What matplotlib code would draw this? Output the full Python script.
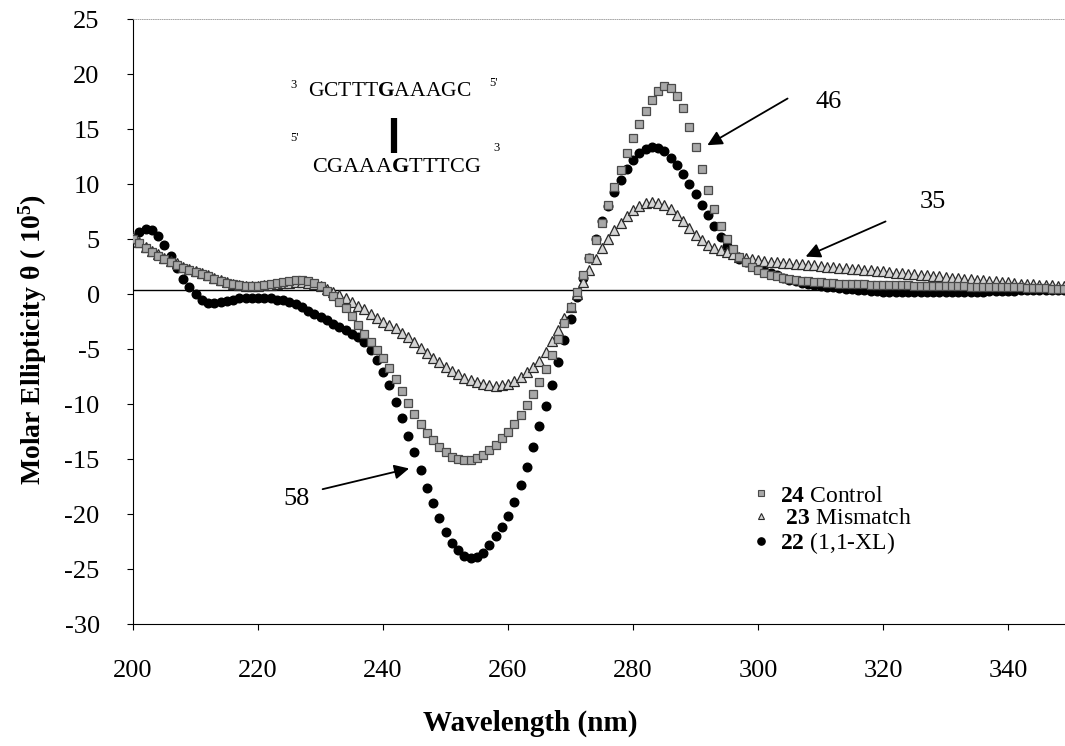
import matplotlib
matplotlib.use("Agg")
import matplotlib.pyplot as plt
from matplotlib.lines import Line2D

plt.rcParams['font.family'] = ['Liberation Serif', 'DejaVu Serif']
plt.rcParams['mathtext.fontset'] = 'custom'
plt.rcParams['mathtext.rm'] = 'Liberation Serif'
plt.rcParams['mathtext.bf'] = 'Liberation Serif:bold'
plt.rcParams['mathtext.it'] = 'Liberation Serif:italic'
plt.rcParams['axes.unicode_minus'] = False

# longitud de onda (nm), un punto por nm
wavelength = list(range(200, 350))

# 24 Control
control = [
    5.0, 4.6, 4.2, 3.8, 3.5, 3.2, 2.9, 2.6, 2.4, 2.2,
    2.0, 1.8, 1.6, 1.4, 1.2, 1.0, 0.9, 0.8, 0.7, 0.7,
    0.7, 0.8, 0.9, 1.0, 1.1, 1.2, 1.3, 1.3, 1.2, 1.0,
    0.7, 0.3, -0.2, -0.7, -1.3, -2.0, -2.8, -3.6, -4.4, -5.1,
    -5.8, -6.7, -7.7, -8.8, -9.9, -10.9, -11.8, -12.6, -13.3, -13.9,
    -14.4, -14.8, -15.0, -15.1, -15.1, -14.9, -14.6, -14.2, -13.7, -13.1,
    -12.5, -11.8, -11.0, -10.1, -9.1, -8.0, -6.8, -5.5, -4.1, -2.6,
    -1.2, 0.2, 1.7, 3.3, 4.9, 6.5, 8.1, 9.7, 11.3, 12.8,
    14.2, 15.5, 16.6, 17.6, 18.5, 18.9, 18.7, 18.0, 16.9, 15.2,
    13.4, 11.4, 9.5, 7.7, 6.2, 5.0, 4.1, 3.4, 2.9, 2.5,
    2.2, 1.9, 1.7, 1.6, 1.5, 1.4, 1.3, 1.2, 1.15, 1.1,
    1.05, 1.0, 1.0, 0.95, 0.95, 0.9, 0.9, 0.9, 0.85, 0.85,
    0.85, 0.8, 0.8, 0.8, 0.8, 0.75, 0.75, 0.75, 0.75, 0.7,
    0.7, 0.7, 0.7, 0.7, 0.65, 0.65, 0.65, 0.65, 0.6, 0.6,
    0.6, 0.6, 0.6, 0.55, 0.55, 0.55, 0.55, 0.5, 0.5, 0.5,
]

# 23 Mismatch
mismatch = [
    5.2, 4.7, 4.3, 3.9, 3.6, 3.3, 3.0, 2.8, 2.5, 2.3,
    2.1, 1.9, 1.7, 1.5, 1.3, 1.1, 0.9, 0.8, 0.7, 0.7,
    0.7, 0.8, 0.8, 0.9, 1.0, 1.0, 1.1, 1.1, 1.0, 0.9,
    0.7, 0.5, 0.2, -0.1, -0.4, -0.7, -1.1, -1.4, -1.8, -2.2,
    -2.5, -2.8, -3.1, -3.5, -3.9, -4.4, -4.9, -5.4, -5.8, -6.2,
    -6.6, -7.0, -7.3, -7.6, -7.8, -8.0, -8.2, -8.3, -8.4, -8.3,
    -8.2, -7.9, -7.5, -7.1, -6.6, -6.1, -5.3, -4.3, -3.3, -2.2,
    -1.2, 0.0, 1.1, 2.2, 3.2, 4.2, 5.0, 5.8, 6.5, 7.1,
    7.6, 8.0, 8.3, 8.4, 8.3, 8.1, 7.7, 7.2, 6.6, 6.0,
    5.4, 4.9, 4.5, 4.2, 4.0, 3.8, 3.6, 3.4, 3.3, 3.2,
    3.1, 3.0, 2.95, 2.9, 2.85, 2.8, 2.75, 2.7, 2.65, 2.6,
    2.55, 2.5, 2.45, 2.4, 2.35, 2.3, 2.25, 2.2, 2.15, 2.1,
    2.05, 2.0, 1.95, 1.9, 1.85, 1.8, 1.75, 1.7, 1.65, 1.6,
    1.55, 1.5, 1.45, 1.4, 1.35, 1.3, 1.25, 1.2, 1.15, 1.1,
    1.05, 1.0, 0.95, 0.9, 0.9, 0.85, 0.8, 0.8, 0.75, 0.7,
]

# 22 (1,1-XL)
xl = [
    5.0, 5.6, 5.9, 5.8, 5.3, 4.5, 3.5, 2.4, 1.4, 0.6,
    0.0, -0.5, -0.8, -0.8, -0.7, -0.6, -0.5, -0.4, -0.4, -0.4,
    -0.4, -0.4, -0.4, -0.5, -0.5, -0.7, -0.9, -1.2, -1.5, -1.8,
    -2.1, -2.4, -2.7, -3.0, -3.3, -3.6, -3.9, -4.4, -5.1, -6.0,
    -7.1, -8.3, -9.8, -11.3, -12.9, -14.4, -16.0, -17.6, -19.0, -20.4,
    -21.6, -22.6, -23.3, -23.8, -24.0, -23.9, -23.5, -22.8, -22.0, -21.2,
    -20.2, -18.9, -17.4, -15.7, -13.9, -12.0, -10.2, -8.3, -6.2, -4.2,
    -2.3, -0.3, 1.5, 3.3, 5.0, 6.6, 8.0, 9.3, 10.4, 11.4,
    12.2, 12.8, 13.2, 13.4, 13.3, 13.0, 12.4, 11.7, 10.9, 10.0,
    9.1, 8.1, 7.2, 6.2, 5.2, 4.4, 3.7, 3.2, 2.9, 2.6,
    2.4, 2.1, 1.9, 1.7, 1.5, 1.3, 1.15, 1.0, 0.9, 0.8,
    0.7, 0.65, 0.6, 0.55, 0.5, 0.45, 0.4, 0.35, 0.3, 0.25,
    0.2, 0.2, 0.2, 0.15, 0.15, 0.15, 0.15, 0.15, 0.15, 0.15,
    0.15, 0.15, 0.15, 0.2, 0.2, 0.2, 0.2, 0.25, 0.25, 0.3,
    0.3, 0.3, 0.35, 0.35, 0.35, 0.4, 0.4, 0.4, 0.4, 0.4,
]

baseline = 0.4
xticks = [200, 220, 240, 260, 280, 300, 320, 340]
yticks = list(range(-30, 30, 5))

fig = plt.figure(figsize=(10.65, 7.46), dpi=100)
ax = fig.add_axes([0.1249, 0.1635, 0.8751, 0.8110])

ax.axhline(baseline, color="black", lw=1.0, zorder=1)

ax.plot(wavelength, xl, ls="none", marker="o", ms=6.2, mfc="black", mec="black", zorder=2)
ax.plot(wavelength, mismatch, ls="none", marker="^", ms=6.5, mfc="#d4d4d4", mec="#2a2a2a", mew=0.9, zorder=3)
ax.plot(wavelength, control, ls="none", marker="s", ms=5.8, mfc="#a8a8a8", mec="#4a4a4a", mew=0.9, zorder=4)

ax.set_xlim(200, 349.1)
ax.set_ylim(-30, 25)
ax.set_xticks(xticks)
ax.set_yticks(yticks)
ax.tick_params(axis="both", direction="out", length=4, width=0.8, labelsize=19)
ax.tick_params(axis="x", pad=22)
ax.tick_params(axis="y", pad=20)
ax.spines["right"].set_visible(False)
ax.spines["top"].set_color("#999999")
ax.spines["top"].set_linewidth(0.6)
ax.spines["top"].set_linestyle(":")

fig.text(0.498, 0.030, "Wavelength (nm)", ha="center", va="center",
         fontsize=21, fontweight="bold")
fig.text(0.031, 0.545, "Molar Ellipticity θ ( 10$^{\\mathbf{5}}$)", ha="center", va="center",
         rotation=90, fontsize=20, fontweight="bold")

# secuencia del duplex
ax.text(241.0, 18.4, "GCTTT$\\mathbf{G}$AAAGC", fontsize=15.5, ha="center", va="center")
ax.text(242.1, 11.5, "CGAAA$\\mathbf{G}$TTTCG", fontsize=16, ha="center", va="center")
ax.text(225.6, 19.0, "3", fontsize=9, ha="center", va="center")
ax.text(257.6, 19.2, "5'", fontsize=9, ha="center", va="center")
ax.text(225.9, 14.2, "5'", fontsize=9, ha="center", va="center")
ax.text(258.2, 13.3, "3", fontsize=9, ha="center", va="center")
ax.plot([241.7, 241.7], [16.0, 12.8], color="black", lw=4.5, solid_capstyle="butt")

# flechas y etiquetas
arrow = dict(arrowstyle="-|>", color="black", lw=1.3, mutation_scale=22)
ax.annotate("", xy=(291.5, 13.4), xytext=(305.1, 17.9), arrowprops=arrow)
ax.annotate("", xy=(307.2, 3.3), xytext=(320.8, 6.7), arrowprops=arrow)
ax.annotate("", xy=(244.6, -15.8), xytext=(229.9, -17.8), arrowprops=arrow)
ax.text(311.3, 17.5, "46", fontsize=19, ha="center", va="center")
ax.text(328.0, 8.4, "35", fontsize=19, ha="center", va="center")
ax.text(226.2, -18.6, "58", fontsize=19, ha="center", va="center")

handles = [
    Line2D([], [], ls="none", marker="s", ms=5.0, mfc="#a8a8a8", mec="#4a4a4a", mew=0.8),
    Line2D([], [], ls="none", marker="^", ms=5.0, mfc="#d4d4d4", mec="#2a2a2a", mew=0.8),
    Line2D([], [], ls="none", marker="o", ms=5.2, mfc="black", mec="black"),
]
labels = ["$\\mathbf{24}$ Control", " $\\mathbf{23}$ Mismatch", "$\\mathbf{22}$ (1,1-XL)"]
ax.legend(handles, labels, loc="upper left", bbox_to_anchor=(0.649, 0.257), frameon=False,
          fontsize=17, handlelength=0.6, handletextpad=0.5, labelspacing=0.05,
          borderpad=0.2)

fig.savefig("out.png", dpi=100)
